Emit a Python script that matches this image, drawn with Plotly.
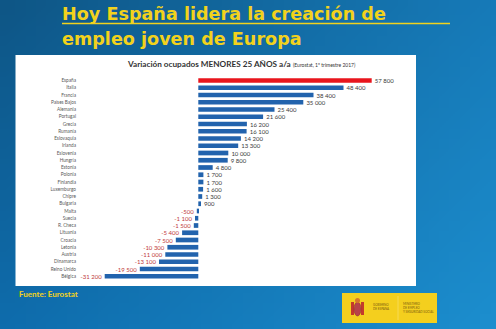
import base64
import struct
import zlib

import plotly.graph_objects as go

# Youth employment change (under 25), year on year, Q1 2017
paises = [
    "España", "Italia", "Francia", "Países Bajos", "Alemania", "Portugal",
    "Grecia", "Rumanía", "Eslovaquia", "Irlanda", "Eslovenia", "Hungría",
    "Estonia", "Polonia", "Finlandia", "Luxemburgo", "Chipre", "Bulgaria",
    "Malta", "Suecia", "R. Checa", "Lituania", "Croacia", "Letonia",
    "Austria", "Dinamarca", "Reino Unido", "Bélgica",
]
variacion = [
    57800, 48400, 38400, 35000, 25400, 21600, 16200, 16100, 14200, 13300,
    10000, 9800, 4800, 1700, 1700, 1600, 1300, 900, -500, -1100, -1500,
    -5400, -7500, -10300, -11000, -13100, -19500, -31200,
]

W, H = 496, 329
YELLOW = "#f2d21c"
BLUE_BAR = "#2263ad"
RED_BAR = "#e8151d"
NBSP = "\u00a0"


def px_x(p):
    return p / W


def px_y(p):
    return 1 - p / H


def gradient_png(w, h, tl, tr, bl, br):
    rows = b""
    for j in range(h):
        fy = j / (h - 1)
        row = b"\x00"
        for i in range(w):
            fx = i / (w - 1)
            c = [
                int(round((a * (1 - fx) + b * fx) * (1 - fy) + (c_ * (1 - fx) + d * fx) * fy))
                for a, b, c_, d in zip(tl, tr, bl, br)
            ]
            row += bytes(c)
        rows += row

    def chunk(tag, data):
        out = struct.pack(">I", len(data)) + tag + data
        return out + struct.pack(">I", zlib.crc32(tag + data) & 0xFFFFFFFF)

    png = b"\x89PNG\r\n\x1a\n"
    png += chunk(b"IHDR", struct.pack(">IIBBBBB", w, h, 8, 2, 0, 0, 0))
    png += chunk(b"IDAT", zlib.compress(rows))
    png += chunk(b"IEND", b"")
    return "data:image/png;base64," + base64.b64encode(png).decode()


bg = gradient_png(48, 32, (14, 86, 134), (22, 122, 184), (14, 108, 172), (28, 142, 206))


def etiqueta(v):
    s = f"{v:,}".replace(",", " ")
    # keep a small gap between the bar end and its value
    return NBSP * 2 + s if v >= 0 else s + NBSP * 2


etiquetas = [etiqueta(v) for v in variacion]
colores = [RED_BAR if p == "España" else BLUE_BAR for p in paises]
color_txt = ["#3a3a3a" if v >= 0 else "#c0393b" for v in variacion]

fig = go.Figure()
fig.add_trace(go.Bar(
    x=variacion,
    y=paises,
    orientation="h",
    marker=dict(color=colores, line=dict(width=0)),
    text=etiquetas,
    textposition="outside",
    constraintext="none",
    textfont=dict(family="Lato, Open Sans, sans-serif", size=6, color=color_txt),
    cliponaxis=False,
    hoverinfo="skip",
))

# px scale: zero at x=198.3, 3.0 px per 1000
x0_px, scale = 198.3, 3.0 / 1000
dom_l, dom_r = 80, 400
row0, step = 80.5, 7.25
n = len(paises)
top_px = row0 - step / 2
bot_px = row0 + (n - 1) * step + step / 2

fig.update_layout(
    width=W,
    height=H,
    margin=dict(l=0, r=0, t=0, b=0),
    paper_bgcolor="#1470b0",
    plot_bgcolor="rgba(0,0,0,0)",
    showlegend=False,
    bargap=0.35,
    xaxis=dict(
        domain=[px_x(dom_l), px_x(dom_r)],
        range=[(dom_l - x0_px) / scale, (dom_r - x0_px) / scale],
        visible=False,
        fixedrange=True,
    ),
    yaxis=dict(
        domain=[px_y(bot_px), px_y(top_px)],
        categoryorder="array",
        categoryarray=paises,
        range=[n - 0.5, -0.5],
        showgrid=False,
        zeroline=False,
        showline=False,
        ticks="",
        ticklabelstandoff=3,
        tickfont=dict(family="Lato, Open Sans, sans-serif", size=4.7, color="#5a5a5a"),
        fixedrange=True,
    ),
    images=[dict(
        source=bg, xref="paper", yref="paper", x=0, y=1,
        sizex=1, sizey=1, sizing="stretch", layer="below",
        xanchor="left", yanchor="top",
    )],
)

shapes = [
    # white chart panel
    dict(type="rect", xref="paper", yref="paper", layer="below",
         x0=px_x(15.5), x1=px_x(416), y0=px_y(286), y1=px_y(55),
         fillcolor="#ffffff", line=dict(width=0)),
    # title underline
    dict(type="line", xref="paper", yref="paper",
         x0=px_x(62), x1=px_x(450), y0=px_y(23.5), y1=px_y(23.5),
         line=dict(color=YELLOW, width=1.6)),
    # ministry logo block
    dict(type="rect", xref="paper", yref="paper",
         x0=px_x(342), x1=px_x(437), y0=px_y(323), y1=px_y(293),
         fillcolor="#f4cf1e", line=dict(width=0)),
    dict(type="line", xref="paper", yref="paper",
         x0=px_x(398), x1=px_x(398), y0=px_y(320), y1=px_y(296),
         line=dict(color="#f9e27a", width=0.6)),
    # coat of arms
    dict(type="rect", xref="paper", yref="paper",
         x0=px_x(351), x1=px_x(354), y0=px_y(315), y1=px_y(302),
         fillcolor="#c43a2c", line=dict(width=0)),
    dict(type="rect", xref="paper", yref="paper",
         x0=px_x(361), x1=px_x(364), y0=px_y(315), y1=px_y(302),
         fillcolor="#c43a2c", line=dict(width=0)),
    dict(type="circle", xref="paper", yref="paper",
         x0=px_x(354), x1=px_x(361), y0=px_y(316), y1=px_y(302),
         fillcolor="#b8434a", line=dict(color="#8a2a30", width=0.5)),
    dict(type="circle", xref="paper", yref="paper",
         x0=px_x(355), x1=px_x(360), y0=px_y(303), y1=px_y(298),
         fillcolor="#d7772c", line=dict(width=0)),
]
fig.update_layout(shapes=shapes)

title_font = "DejaVu Sans, sans-serif"
body_font = "Lato, Open Sans, sans-serif"
ann = [
    dict(text="<b>Hoy España lidera la creación de</b>", x=px_x(61), y=px_y(14.5),
         font=dict(family=title_font, size=17.6, color=YELLOW)),
    dict(text="<b>empleo joven de Europa</b>", x=px_x(61), y=px_y(38.5),
         font=dict(family=title_font, size=17.6, color=YELLOW)),
    dict(text="<b>Variación ocupados MENORES 25 AÑOS a/a</b>", x=px_x(126), y=px_y(64),
         font=dict(family=body_font, size=8.2, color="#333333")),
    dict(text="(Eurostat, 1º trimestre 2017)", x=px_x(292), y=px_y(64.5),
         font=dict(family=body_font, size=5, color="#333333")),
    dict(text="<b>Fuente: Eurostat</b>", x=px_x(18), y=px_y(294),
         font=dict(family=body_font, size=8, color=YELLOW)),
    dict(text="GOBIERNO<br>DE ESPAÑA", x=px_x(372), y=px_y(307),
         font=dict(family=body_font, size=3, color="#7a5a10")),
    dict(text="MINISTERIO<br>DE EMPLEO<br>Y SEGURIDAD SOCIAL", x=px_x(402), y=px_y(307.5),
         font=dict(family=body_font, size=3, color="#7a5a10")),
]
for a in ann:
    fig.add_annotation(xref="paper", yref="paper", xanchor="left", yanchor="middle",
                       showarrow=False, align="left", borderpad=0, **a)

fig.write_html("out.html")
